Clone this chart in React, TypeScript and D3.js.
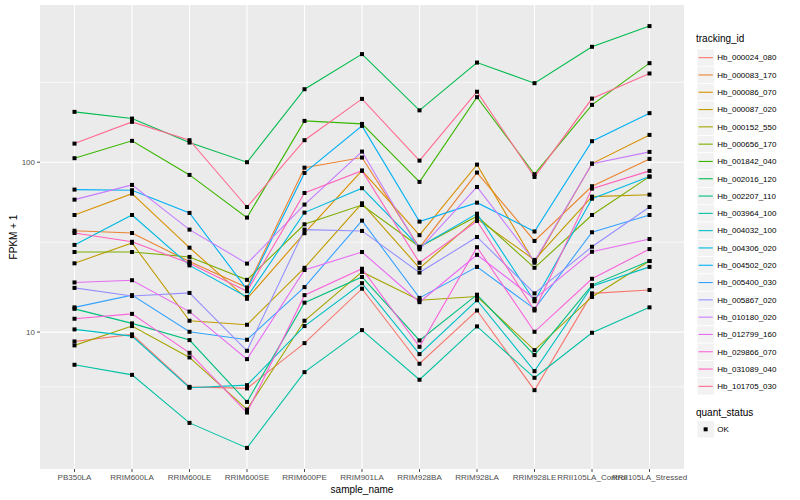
import * as d3 from "d3";

const samples = [
  "PB350LA", "RRIM600LA", "RRIM600LE", "RRIM600SE", "RRIM600PE", "RRIM901LA",
  "RRIM928BA", "RRIM928LA", "RRIM928LE", "RRII105LA_Control", "RRII105LA_Stressed",
];

const trackingIds = [
  "Hb_000024_080", "Hb_000083_170", "Hb_000086_070", "Hb_000087_020", "Hb_000152_550",
  "Hb_000656_170", "Hb_001842_040", "Hb_002016_120", "Hb_002207_110", "Hb_003964_100",
  "Hb_004032_100", "Hb_004306_020", "Hb_004502_020", "Hb_005400_030", "Hb_005867_020",
  "Hb_010180_020", "Hb_012799_160", "Hb_029866_070", "Hb_031089_040", "Hb_101705_030",
];

// FPKM + 1 per sample, one array per gene
const hb000024_080 = [8.81, 9.69, 4.76, 4.66, 8.61, 18.0, 6.51, 13.4, 4.55, 16.9, 17.7];
const hb000083_170 = [39.5, 38.3, 26.0, 18.3, 92.9, 106.5, 31.4, 86.9, 34.4, 72.2, 104.6];
const hb000086_070 = [48.9, 65.3, 31.4, 15.7, 38.2, 89.2, 37.2, 96.8, 25.6, 98.1, 144.8];
const hb000087_020 = [25.4, 33.5, 11.66, 11.04, 23.9, 57.3, 23.8, 46.5, 26.6, 62.7, 64.4];
const hb000152_550 = [8.35, 10.85, 7.09, 3.5, 11.66, 22.6, 15.4, 16.2, 7.83, 16.1, 26.2];
const hb000656_170 = [29.6, 29.6, 27.7, 20.3, 43.1, 56.0, 31.8, 48.1, 23.9, 48.9, 82.3];
const hb001842_040 = [105.6, 133.6, 84.2, 47.2, 175.1, 168.1, 76.6, 241.6, 85.0, 217.6, 383];
const hb002016_120 = [197.9, 180.7, 130.5, 100, 269, 433, 202, 386, 292, 478, 633];
const hb002207_110 = [13.7, 11.25, 8.97, 3.88, 14.9, 21.1, 8.93, 16.6, 7.32, 18.9, 26.2];
const hb003964_100 = [6.42, 5.6, 2.92, 2.08, 5.81, 10.27, 5.24, 10.8, 5.38, 9.91, 13.98];
const hb004032_100 = [10.37, 9.47, 4.7, 4.87, 10.85, 19.4, 7.42, 15.4, 5.89, 18.6, 24.2];
const hb004306_020 = [32.6, 48.9, 24.7, 16.1, 50.5, 70.3, 31.7, 49.8, 15.2, 61.0, 82.3];
const hb004502_020 = [69.0, 68.4, 50.3, 17.85, 86.5, 163.7, 44.7, 57.8, 39.1, 133.0, 194.5];
const hb005400_030 = [13.98, 16.5, 10.04, 9.01, 18.4, 45.3, 15.9, 24.2, 13.7, 38.7, 48.9];
const hb005867_020 = [18.2, 16.3, 17.0, 7.76, 40.1, 39.4, 22.4, 36.3, 16.9, 31.8, 54.5];
const hb010180_020 = [60.2, 73.5, 40.1, 25.3, 56.3, 115.5, 30.7, 71.5, 26.1, 98.1, 115.0];
const hb012799_160 = [19.6, 20.2, 13.2, 6.93, 23.2, 29.6, 15.0, 28.5, 15.7, 29.7, 35.3];
const hb029866_070 = [11.98, 12.8, 7.55, 3.36, 16.5, 23.6, 8.19, 31.6, 10.04, 20.6, 30.8];
const hb031089_040 = [38.3, 34.0, 25.4, 17.4, 65.9, 89.2, 25.6, 45.1, 13.4, 69.9, 88.9];
const hb101705_030 = [128.7, 172.8, 134.8, 54.5, 134.8, 236, 102.2, 260, 81.9, 237, 333];

const yTicks = [10, 100];
const yMinor = [4.76, 33.8, 295];

const seriesValues = [
  hb000024_080, hb000083_170, hb000086_070, hb000087_020, hb000152_550,
  hb000656_170, hb001842_040, hb002016_120, hb002207_110, hb003964_100,
  hb004032_100, hb004306_020, hb004502_020, hb005400_030, hb005867_020,
  hb010180_020, hb012799_160, hb029866_070, hb031089_040, hb101705_030,
];

// ggplot default hue palette for 20 levels
const palette = [
  "#F8766D", "#EA8331", "#D89000", "#C09B00", "#A3A500", "#7CAE00", "#39B600",
  "#00BB4E", "#00BF7D", "#00C1A3", "#00BFC4", "#00BAE0", "#00B0F6", "#35A2FF",
  "#9590FF", "#C77CFF", "#E76BF3", "#FA62DB", "#FF62BC", "#FF6C91",
];

const W = 800;
const H = 500;
const panel = { left: 40, right: 684, top: 5, bottom: 469 };
const font = "'Liberation Sans', Arial, sans-serif";

export default function App() {
  const series = trackingIds.map((id, i) => ({
    id,
    color: palette[i],
    values: seriesValues[i],
  }));

  const x = d3
    .scalePoint<string>()
    .domain(samples)
    .range([panel.left, panel.right])
    .padding(0.6);

  const all = seriesValues.flat();
  const [lo, hi] = d3.extent(all) as [number, number];
  const lLo = Math.log10(lo);
  const lHi = Math.log10(hi);
  const pad = (lHi - lLo) * 0.05;
  const y = d3
    .scaleLog()
    .domain([Math.pow(10, lLo - pad), Math.pow(10, lHi + pad)])
    .range([panel.bottom, panel.top]);

  const line = d3
    .line<number>()
    .x((_, i) => x(samples[i]) as number)
    .y((d) => y(d));

  const legendX = 697;
  const legendTop = 49;
  const keyH = 17.3;

  return (
    <svg width={W} height={H} style={{ position: "absolute", left: 0, top: 0 }} fontFamily={font}>
      <rect x={0} y={0} width={W} height={H} fill="#fff" />
      <rect
        x={panel.left}
        y={panel.top}
        width={panel.right - panel.left}
        height={panel.bottom - panel.top}
        fill="#EBEBEB"
      />
      {yMinor.map((v) => (
        <line key={"mn" + v} x1={panel.left} x2={panel.right} y1={y(v)} y2={y(v)} stroke="#fff" strokeWidth={0.6} />
      ))}
      {yTicks.map((v) => (
        <line key={"mj" + v} x1={panel.left} x2={panel.right} y1={y(v)} y2={y(v)} stroke="#fff" strokeWidth={1.1} />
      ))}
      {samples.map((s) => (
        <line key={"vx" + s} x1={x(s)} x2={x(s)} y1={panel.top} y2={panel.bottom} stroke="#fff" strokeWidth={1.1} />
      ))}

      {series.map((s) => (
        <path key={s.id} d={line(s.values) as string} fill="none" stroke={s.color} strokeWidth={1.1} />
      ))}
      {series.map((s) =>
        s.values.map((v, i) => (
          <rect
            key={s.id + i}
            x={(x(samples[i]) as number) - 2}
            y={y(v) - 2}
            width={4}
            height={4}
            fill="#000"
          />
        ))
      )}

      {/* y axis */}
      {yTicks.map((v) => (
        <g key={"yt" + v}>
          <line x1={panel.left - 3} x2={panel.left} y1={y(v)} y2={y(v)} stroke="#4D4D4D" />
          <text x={panel.left - 5} y={y(v)} dy="0.35em" textAnchor="end" fontSize={8} fill="#4D4D4D">
            {v}
          </text>
        </g>
      ))}
      <text
        transform={`translate(13, ${(panel.top + panel.bottom) / 2}) rotate(-90)`}
        textAnchor="middle"
        dy="0.35em"
        fontSize={10}
        fill="#000"
      >
        FPKM + 1
      </text>

      {/* x axis */}
      {samples.map((s) => (
        <g key={"xt" + s}>
          <line x1={x(s)} x2={x(s)} y1={panel.bottom} y2={panel.bottom + 3} stroke="#4D4D4D" />
          <text x={x(s)} y={panel.bottom + 11} textAnchor="middle" fontSize={8} fill="#4D4D4D">
            {s}
          </text>
        </g>
      ))}
      <text
        x={(panel.left + panel.right) / 2}
        y={panel.bottom + 24}
        textAnchor="middle"
        fontSize={10}
        fill="#000"
      >
        sample_name
      </text>

      {/* legend: tracking_id */}
      <text x={legendX - 1} y={legendTop - 11} dy="0.35em" fontSize={10} fill="#000">
        tracking_id
      </text>
      {series.map((s, i) => {
        const cy = legendTop + keyH * i + keyH / 2;
        return (
          <g key={"lg" + s.id}>
            <rect x={legendX} y={cy - keyH / 2} width={keyH} height={keyH} fill="#F2F2F2" stroke="#fff" strokeWidth={0.8} />
            <line x1={legendX + 1.5} x2={legendX + keyH - 1.5} y1={cy} y2={cy} stroke={s.color} strokeWidth={1.1} />
            <text x={legendX + keyH + 3} y={cy} dy="0.35em" fontSize={8} fill="#000">
              {s.id}
            </text>
          </g>
        );
      })}

      {/* legend: quant_status */}
      <text x={legendX - 1} y={412} dy="0.35em" fontSize={10} fill="#000">
        quant_status
      </text>
      <rect x={legendX} y={429.3 - keyH / 2} width={keyH} height={keyH} fill="#F2F2F2" stroke="#fff" strokeWidth={0.8} />
      <rect x={legendX + keyH / 2 - 2} y={429.3 - 2} width={4} height={4} fill="#000" />
      <text x={legendX + keyH + 3} y={429.3} dy="0.35em" fontSize={8} fill="#000">
        OK
      </text>
    </svg>
  );
}
